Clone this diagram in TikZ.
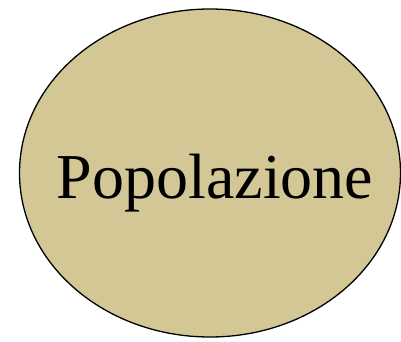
\documentclass[tikz,border=0pt]{standalone}
\usepackage{fontspec}
\setmainfont{Liberation Serif}
\usetikzlibrary{shapes.geometric}
\definecolor{khaki}{RGB}{211,199,150}

\begin{document}
\begin{tikzpicture}[x=1pt,y=1pt]
        \useasboundingbox (0,0) rectangle (401,341);

                % Define and draw the ellipse and its label
                \node[ellipse, draw, fill=khaki, line width=1.3pt, inner sep=0pt,
                      minimum width=381pt, minimum height=328pt] (pop) at (210,168) {};
                \node[anchor=base, inner sep=0pt, font=\fontsize{64}{70}\selectfont] (poplabel) at (215,143) {Popolazione};
            \end{tikzpicture}
\end{document}
